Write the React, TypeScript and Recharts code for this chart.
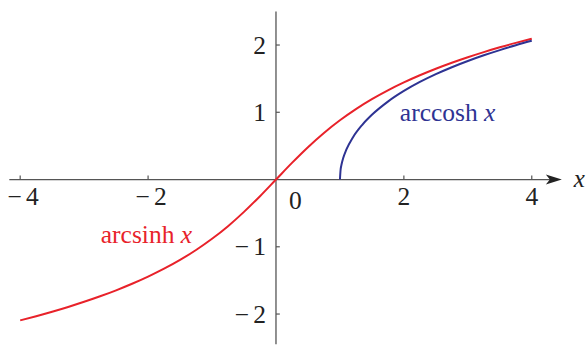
import React from 'react';
import {
  LineChart,
  Line,
  XAxis,
  YAxis,
  ReferenceLine,
  ReferenceDot,
} from 'recharts';

// arcsinh x
const sinhX = [
  -4, -3.75, -3.5, -3.25, -3, -2.75, -2.5, -2.25, -2, -1.75, -1.5, -1.25, -1,
  -0.75, -0.5, -0.25, 0, 0.25, 0.5, 0.75, 1, 1.25, 1.5, 1.75, 2, 2.25, 2.5,
  2.75, 3, 3.25, 3.5, 3.75, 4,
];
const sinhY = [
  -2.0947, -2.0322, -1.9658, -1.8947, -1.8184, -1.7363, -1.6472, -1.5501,
  -1.4436, -1.3259, -1.1948, -1.0476, -0.8814, -0.6931, -0.4812, -0.2475, 0,
  0.2475, 0.4812, 0.6931, 0.8814, 1.0476, 1.1948, 1.3259, 1.4436, 1.5501,
  1.6472, 1.7363, 1.8184, 1.8947, 1.9658, 2.0322, 2.0947,
];

// arccosh x
const coshX = [
  1, 1.01, 1.025, 1.05, 1.1, 1.2, 1.35, 1.5, 1.75, 2, 2.25, 2.5, 2.75, 3, 3.25,
  3.5, 3.75, 4,
];
const coshY = [
  0, 0.1413, 0.2231, 0.315, 0.4436, 0.6224, 0.814, 0.9624, 1.1588, 1.317,
  1.4506, 1.5668, 1.6699, 1.7627, 1.8472, 1.9248, 1.9966, 2.0634,
];

const xTicks = [-4, -2, 2, 4];
const yTicks = [-2, -1, 1, 2];

const sinhData = sinhX.map((x, i) => ({ x, y: sinhY[i] }));
const coshData = coshX.map((x, i) => ({ x, y: coshY[i] }));

const AXIS = '#555555';
const RED = '#e8222a';
const BLUE = '#2e3393';
const FONT = '"Liberation Serif", "Times New Roman", serif';

// tick label with a wide gap after the minus sign
const TickText = (v: number, dx: number, dy: number, anchor: string) =>
  (props: any) => (
    <text
      x={props.cx + dx}
      y={props.cy + dy}
      textAnchor={anchor}
      fontFamily={FONT}
      fontSize={25.5}
      fill="#222"
    >
      {v < 0 ? (
        <>
          {'\u2212'}
          <tspan dx={4}>{Math.abs(v)}</tspan>
        </>
      ) : (
        `${v}`
      )}
    </text>
  );

const Arrow = (props: any) => {
  const { cx, cy } = props;
  return (
    <g>
      <path
        d={`M${cx},${cy} L${cx - 16},${cy - 5} L${cx - 12},${cy} L${cx - 16},${cy + 5} Z`}
        fill="#222"
      />
      <text x={cx + 12} y={cy + 7} fontFamily={FONT} fontSize={25} fontStyle="italic" fill="#222">
        x
      </text>
    </g>
  );
};

export default function App() {
  return (
    <div style={{ position: 'absolute', left: 0, top: 0, background: '#fff' }}>
      <LineChart width={587} height={345} margin={{ top: 11.4, right: 23.25, bottom: 0.7, left: 1 }}>
        <XAxis type="number" dataKey="x" domain={[-4.3, 4.5]} allowDataOverflow hide />
        <YAxis type="number" dataKey="y" domain={[-2.45, 2.5]} allowDataOverflow hide />

        <ReferenceLine segment={[{ x: 0, y: -2.45 }, { x: 0, y: 2.5 }]} stroke={AXIS} strokeWidth={1.3} ifOverflow="visible" />
        <ReferenceLine segment={[{ x: -4.17, y: 0 }, { x: 4.3, y: 0 }]} stroke={AXIS} strokeWidth={1.3} ifOverflow="visible" />
        {xTicks.map((t) => (
          <ReferenceLine key={`xt${t}`} segment={[{ x: t, y: 0 }, { x: t, y: 0.06 }]} stroke={AXIS} strokeWidth={1.2} />
        ))}
        {yTicks.map((t) => (
          <ReferenceLine key={`yt${t}`} segment={[{ x: 0, y: t }, { x: 0.06, y: t }]} stroke={AXIS} strokeWidth={1.2} />
        ))}

        <Line data={sinhData} dataKey="y" type="monotone" stroke={RED} strokeWidth={2} dot={false} isAnimationActive={false} />
        <Line data={coshData} dataKey="y" type="monotone" stroke={BLUE} strokeWidth={2} dot={false} isAnimationActive={false} />

        {xTicks.map((t) => (
          <ReferenceDot key={`xl${t}`} x={t} y={0} r={0} ifOverflow="visible"
            shape={TickText(t, t < 0 ? 3 : 0, 25.5, 'middle')} />
        ))}
        {yTicks.map((t) => (
          <ReferenceDot key={`yl${t}`} x={0} y={t} r={0} ifOverflow="visible"
            shape={TickText(t, -10, 8.5, 'end')} />
        ))}
        <ReferenceDot x={0} y={0} r={0} ifOverflow="visible" shape={TickText(0, 19.5, 29.5, 'middle')} />
        <ReferenceDot x={4.47} y={0} r={0} ifOverflow="visible" shape={Arrow} />

        <ReferenceDot x={-2.74} y={-0.944} r={0} ifOverflow="visible"
          shape={(p: any) => (
            <text x={p.cx} y={p.cy} fontFamily={FONT} fontSize={25.5} fill={RED}>
              arcsinh <tspan fontStyle="italic">x</tspan>
            </text>
          )} />
        <ReferenceDot x={1.937} y={0.87} r={0} ifOverflow="visible"
          shape={(p: any) => (
            <text x={p.cx} y={p.cy} fontFamily={FONT} fontSize={25.5} fill={BLUE}>
              arccosh <tspan fontStyle="italic">x</tspan>
            </text>
          )} />
      </LineChart>
    </div>
  );
}
